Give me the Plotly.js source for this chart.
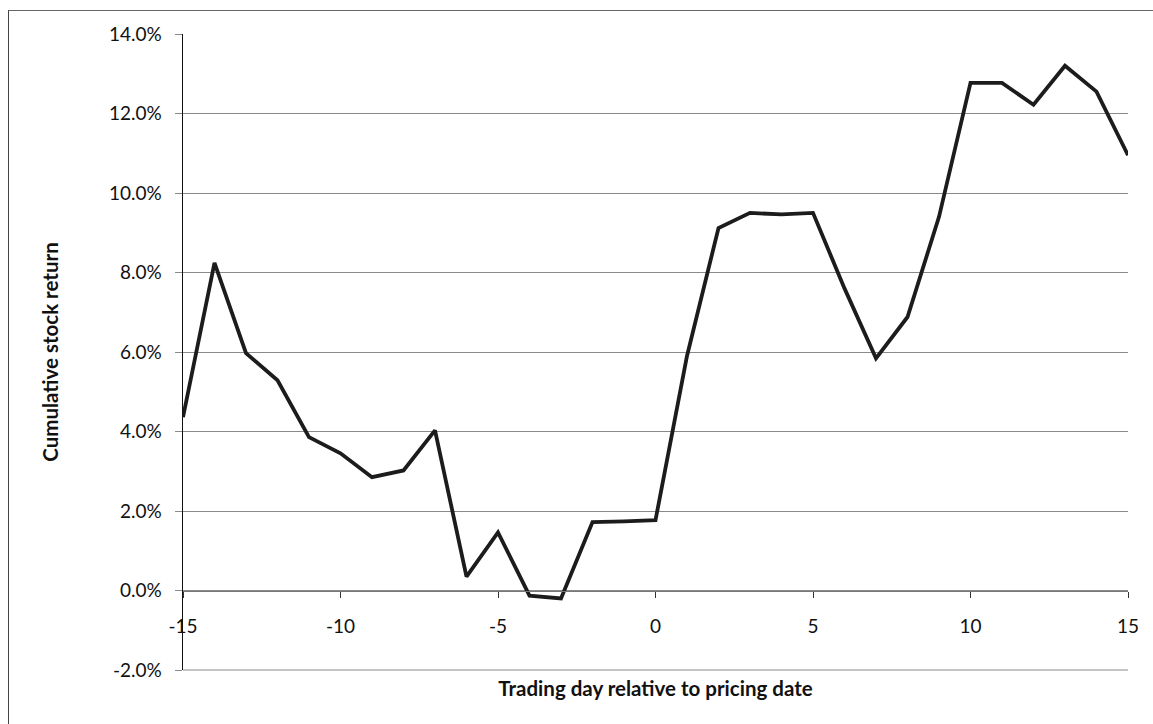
<!DOCTYPE html>
<html>
<head>
<meta charset="utf-8">
<script src="https://cdn.plot.ly/plotly-3.0.1.min.js"></script>
<style>
  html, body { margin: 0; padding: 0; background: #fff; }
  #wrap { position: relative; width: 1153px; height: 724px; overflow: hidden; }
  #chart { position: absolute; left: 0; top: 0; width: 1153px; height: 724px; }
  #frame { position: absolute; left: 8px; top: 10px; right: -2px; bottom: -2px;
           border-left: 1px solid #444; border-top: 1px solid #666; pointer-events: none; }
</style>
</head>
<body>
<div id="wrap">
  <div id="chart"></div>
  <div id="frame"></div>
</div>
<script>
// Trading day relative to pricing date
const tradingDays = [-15,-14,-13,-12,-11,-10,-9,-8,-7,-6,-5,-4,-3,-2,-1,0,1,2,3,4,5,6,7,8,9,10,11,12,13,14,15];
// Cumulative stock return (%)
const cumulativeReturn = [4.36,8.24,5.97,5.29,3.86,3.45,2.85,3.02,4.03,0.35,1.46,-0.13,-0.2,1.72,1.74,1.77,
                          5.9,9.12,9.5,9.46,9.5,7.6,5.84,6.88,9.4,12.77,12.77,12.22,13.2,12.55,10.95];
const yTicks = [-2,0,2,4,6,8,10,12,14];
const xTicks = [-15,-10,-5,0,5,10,15];
const xTitle = 'Trading day relative to pricing date';
const yTitle = 'Cumulative stock return';

const fontFamily = 'Lato, "Open Sans", "DejaVu Sans", sans-serif';

const trace = {
  x: tradingDays,
  y: cumulativeReturn,
  type: 'scatter',
  mode: 'lines',
  line: { color: '#1c1c1c', width: 3.8 },
  hoverinfo: 'x+y',
  showlegend: false
};

const yMin = yTicks[0], yMax = yTicks[yTicks.length - 1];

const layout = {
  width: 1153,
  height: 724,
  margin: { l: 183, r: 25, t: 34, b: 54, pad: 0 },
  paper_bgcolor: '#ffffff',
  plot_bgcolor: '#ffffff',
  font: { family: fontFamily, size: 18, color: '#111' },
  xaxis: {
    range: [-15, 15],
    tickmode: 'array',
    tickvals: xTicks,
    ticktext: xTicks.map(String),
    showgrid: false,
    zeroline: false,
    showline: true,
    linecolor: '#777',
    linewidth: 1,
    ticks: 'outside',
    ticklen: 6,
    tickcolor: '#333',
    tickwidth: 1,
    ticklabelstandoff: 13,
    anchor: 'free',
    position: (0 - yMin) / (yMax - yMin),
    tickfont: { family: fontFamily, size: 19, color: '#111' },
    title: { text: xTitle, font: { family: fontFamily, size: 20.5, color: '#111', weight: 'bold' }, standoff: 45 },
    fixedrange: true
  },
  yaxis: {
    range: [yMin, yMax],
    tickmode: 'array',
    tickvals: yTicks,
    ticktext: yTicks.map(v => v.toFixed(1) + '%'),
    showgrid: true,
    gridcolor: '#8a8a8a',
    gridwidth: 1,
    zeroline: false,
    showline: true,
    linecolor: '#111',
    linewidth: 1.5,
    ticks: 'outside',
    ticklen: 7,
    tickcolor: '#8a8a8a',
    ticklabelstandoff: 9,
    tickfont: { family: fontFamily, size: 19, color: '#111' },
    title: { text: yTitle, font: { family: fontFamily, size: 20.5, color: '#111', weight: 'bold' }, standoff: 44 },
    fixedrange: true
  },
  shapes: [{
    type: 'line', xref: 'paper', yref: 'paper', x0: 0, x1: 1, y0: 0, y1: 0,
    line: { color: '#8a8a8a', width: 1 }, layer: 'above'
  }],
  showlegend: false
};

Plotly.newPlot('chart', [trace], layout, { displayModeBar: false, staticPlot: true });
</script>
</body>
</html>
